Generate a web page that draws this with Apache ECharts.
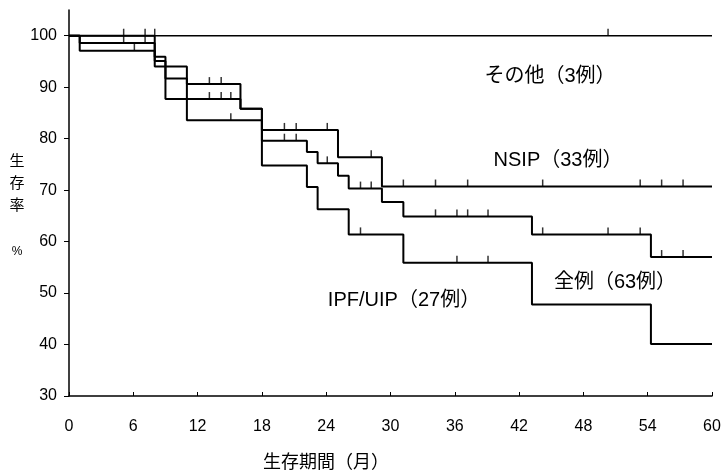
<!DOCTYPE html>
<html>
<head>
<meta charset="utf-8">
<script src="https://cdn.jsdelivr.net/npm/echarts@6/dist/echarts.min.js"></script>
<style>
  html, body { margin: 0; padding: 0; background: #fff; }
  #chart { width: 727px; height: 473px; }
</style>
</head>
<body>
<div id="chart"></div>
<script>
// 生存曲線 (Kaplan-Meier), [月, 生存率%] — 各点からその値が続く
const sonota = [[0, 100], [60, 100]]
const nsip = [[0, 100], [1, 97.1], [8, 94.0], [11, 90.6], [16, 85.8], [18, 81.7], [25.1, 76.4], [29.2, 70.7], [60, 70.7]]
const zenrei = [[0, 100], [1, 98.6], [8, 95.1], [9, 91.7], [11, 87.7], [16, 85.8], [18, 79.6], [22.2, 77.4], [23.2, 75.2],
  [25.1, 72.8], [26.1, 70.3], [29.2, 67.7], [31.2, 64.9], [43.2, 61.4], [54.3, 57.0], [60, 57.0]]
const ipf = [[0, 100], [8, 95.9], [9, 87.7], [11, 83.6], [18, 74.8], [22.2, 70.6], [23.2, 66.3], [26.1, 61.4],
  [31.2, 55.9], [43.2, 47.8], [54.3, 40.1], [60, 40.1]]

// 打ち切り (月)
const sonotaCens = [5.1, 7.1, 8.0, 50.3]
const nsipCens = [6.1, 13.1, 14.2, 20.1, 21.2, 24.1, 28.2, 31.2, 34.2, 37.2, 44.2, 53.3, 55.3, 57.3]
const zenreiCens = [5.1, 7.1, 13.1, 14.2, 15.1, 20.1, 21.2, 24.1, 27.2, 28.2, 34.2, 36.2, 37.2, 39.1, 44.2, 50.3, 53.3, 55.3, 57.3]
const ipfCens = [15.1, 27.2, 36.2, 39.1]

const yTicks = [30, 40, 50, 60, 70, 80, 90, 100]
const labels = [
  { text: 'その他（3例）', x: 550, y: 76 },
  { text: 'NSIP（33例）', x: 558, y: 160 },
  { text: '全例（63例）', x: 615, y: 282 },
  { text: 'IPF/UIP（27例）', x: 404, y: 300 },
]

const font = "'Liberation Sans', 'Noto Sans CJK JP', sans-serif"

function levelAt(curve, t) {
  let v = curve[0][1]
  for (const p of curve) {
    if (p[0] <= t) v = p[1]
  }
  return v
}

function stepLine(data, w) {
  return {
    type: 'line',
    step: 'end',
    data: data,
    symbol: 'none',
    lineStyle: { color: '#000', width: w },
    z: 3,
  }
}

function cens(curve, times) {
  return {
    type: 'scatter',
    data: times.map(t => [t, levelAt(curve, t)]),
    symbol: 'rect',
    symbolSize: [1.5, 7],
    symbolOffset: [0, -3.5],
    itemStyle: { color: '#000' },
    z: 4,
  }
}

function txt(text, x, y, size) {
  return {
    type: 'text',
    x: x,
    y: y,
    style: { text: text, fontSize: size, fontFamily: font, fill: '#000', align: 'center', verticalAlign: 'middle' },
  }
}

let myChart = echarts.init(document.getElementById('chart'))
myChart.setOption({
  animation: false,
  backgroundColor: '#fff',
  textStyle: { fontFamily: font },
  grid: { left: 69, right: 15, top: 10, bottom: 77 },
  xAxis: {
    type: 'value',
    min: 0,
    max: 60,
    interval: 6,
    axisLine: { lineStyle: { color: '#000', width: 1.5 } },
    axisTick: { inside: true, length: 4, lineStyle: { color: '#000' } },
    axisLabel: { color: '#000', fontSize: 16, margin: 23, fontFamily: font },
    splitLine: { show: false },
  },
  yAxis: {
    type: 'value',
    min: 30,
    max: 105,
    axisLine: { show: true, lineStyle: { color: '#000', width: 1.5 } },
    axisTick: { show: true, length: 5, customValues: yTicks, lineStyle: { color: '#000' } },
    axisLabel: { color: '#000', fontSize: 16, margin: 12, customValues: yTicks, fontFamily: font },
    splitLine: { show: false },
  },
  graphic: [
    ...labels.map(l => txt(l.text, l.x, l.y, 20)),
    txt('生', 17, 162, 15),
    txt('存', 17, 184, 15),
    txt('率', 17, 206, 15),
    txt('%', 17, 252, 12),
    txt('生存期間（月）', 326, 463, 18),
  ],
  series: [
    stepLine(sonota, 1.5),
    stepLine(nsip, 2),
    stepLine(zenrei, 2),
    stepLine(ipf, 2),
    cens(sonota, sonotaCens),
    cens(nsip, nsipCens),
    cens(zenrei, zenreiCens),
    cens(ipf, ipfCens),
  ],
})
</script>
</body>
</html>
